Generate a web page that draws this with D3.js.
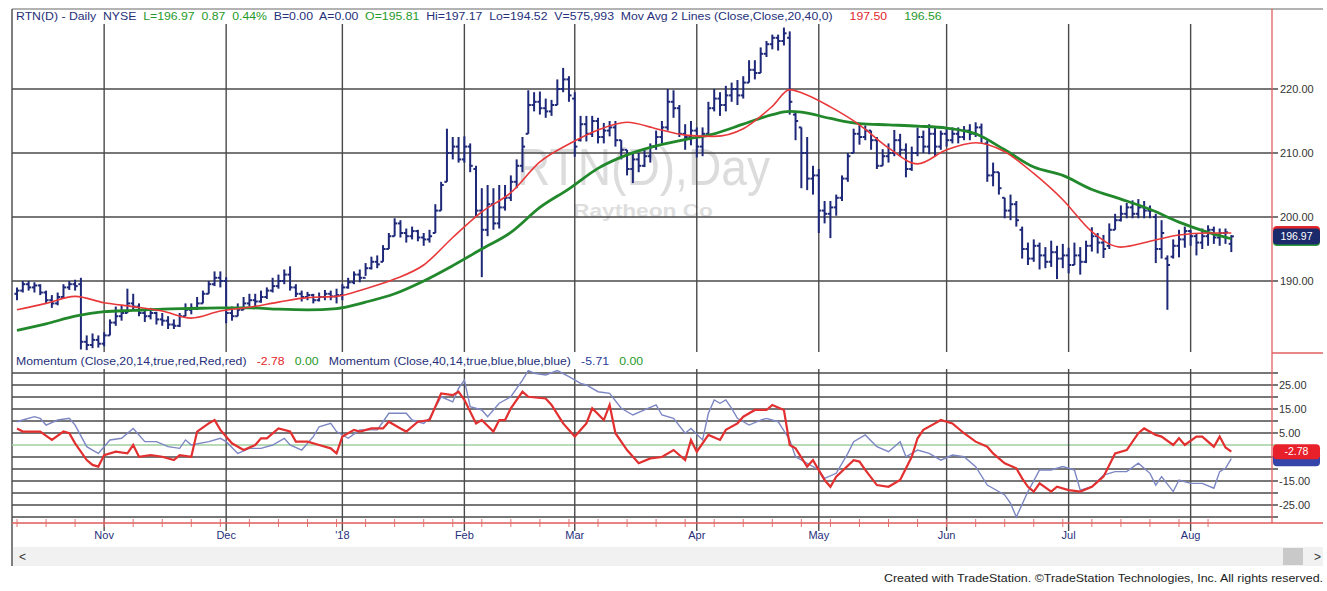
<!DOCTYPE html>
<html><head><meta charset="utf-8">
<script src="https://cdn.jsdelivr.net/npm/d3@7"></script>
<style>
html,body{margin:0;padding:0;background:#fff;}
svg{display:block;font-family:"Liberation Sans",Arial,sans-serif;}
text{white-space:pre;}
</style></head><body>
<svg id="c" width="1327" height="591"></svg>
<script>
// ---------- DATA ----------
const monthLabels = ["Nov","Dec","'18","Feb","Mar","Apr","May","Jun","Jul","Aug"];
const monthIdx    = [15,36,56,77,96,117,138,160,181,202];
const priceTicks  = [190,200,210,220];
const momGridLevels = [30,25,20,15,10,5,0,-5,-10,-15,-20,-25,-30];
const momLabels   = [25,15,5,-15,-25];

const opens = [188,188.5,189.5,189,189.3,188.2,187,186.5,187.5,189,
189.5,189.5,180.5,180,180.8,180.2,181.5,183.5,184.5,185,
186.5,186,185,184.5,185,184,183.8,183.2,183,184.5,
185.5,185.8,186.5,188,189.5,190.5,190,185,184.5,185.5,
186.5,187,186.8,187.5,188.5,189.2,190,191,189,188,
187.5,187.8,187,187.5,188,187.6,187.8,189,189.8,191,
190.5,192,193,193,195,197,199,197.5,197,197.8,
196.8,196.5,197.5,201,205.5,210,211,209,211,207.5,
201,198,202,199,201.5,203,205.5,208,213,217.5,
218,217,216.5,217.5,220,221.5,218.5,212,214.5,213,
215,212.5,213.5,214,212,210.5,207.5,209,208,209.5,
211,212.5,214,218,217,213,212.5,213.5,211,213,
217,218.5,217.5,219,220,219,221,223,222.5,225.5,
227,228,227.5,228,216,214,210,206,206.5,201,
200.5,201.5,203,206,210,213,212.5,213.5,212,208,
209.5,210,212,210.5,207.5,210,212.5,211,213,211,
213,212,213,212.5,213.5,213,214,211.5,206.5,207,
203,201,202,198,195,193.5,195.5,194,193,194.5,
193.5,194,192.5,194,193,195.5,197,196,195.5,198,
199.5,200.5,201.5,200.5,201.5,201,200,195,193.5,193.8,
195.5,196.5,197.8,197,196,197,198,196.8,197.5,195.81];

const highs = [189,190,190,189.8,189.5,188.5,187.8,188.2,189.5,190,
190.2,190.5,181.5,181.8,181.5,182,184,186,186.2,188.8,
188,186.5,185.6,185.8,185.2,185,184.5,184,185,186.5,
186.5,187.5,188.5,190,191.5,191.5,190.6,186,186.5,187.5,
188,188,188.5,189,190.5,191,191.8,192.3,189.5,188.5,
188.3,188,188.2,188.6,188.5,188.8,189.5,190.5,191.5,191.8,
192.8,193.8,194,195.6,197.5,199.8,199.5,198.2,198.5,198,
197.5,198,202,205.5,213.8,212.5,212.5,212.6,211.5,208,
204.5,205,204.5,205,205,206.5,209,212.5,219.8,219.5,
219.6,218.5,218.3,221.5,223.3,222,219.5,215.8,215.8,215.8,
215.5,214.7,215,215,212,210.5,210,210,210.5,211.5,
213.5,215,220,219.8,217.5,214.5,215,214,214,218,
220,219.5,220.5,221,221.4,222,224.5,224.5,226.5,227.5,
228.5,228.5,229.6,229,216.5,214,212.5,208,207.5,202.5,
202.5,203.5,206.5,210,213.8,214.6,214.3,213.5,212.5,210.6,
211.5,213.6,213,211.5,211,214,213.5,214.5,214,213.5,
214,214,214,214.2,214.5,214.8,214.6,212,208.5,207,
203,203.5,202.5,198.5,196,196.5,196,195.3,196.3,195.5,
195.8,195.2,196,195.3,196.3,198.4,197.5,197.2,199,200.5,
201.8,202.2,202.6,202.8,202.5,201.8,200.5,199.5,194,196.5,
198,198.5,198,197.5,198.2,198.7,198.5,198.2,198.2,197.17];

const lows = [187,188.2,188.5,188.2,187.8,186.5,185.8,186.2,187.2,188.6,
188.5,179.3,179.2,179.5,179.6,179.8,181.5,183,183.8,185,
185.5,184.5,183.6,184,183.2,183,182.5,182.5,182.8,184.5,
184.8,185.5,186.5,188,189.2,189,183.4,183.8,184.5,185.5,
186,186,186.6,187.2,188.2,188.8,189.5,188.5,187.5,186.8,
187,186.5,186.8,187,187,186.5,187,188.8,189.5,189.8,
190.8,191.8,192,193,195,197,196.8,196,196.5,196.2,
195.5,196,197.5,201,205.5,209,208.5,208.5,207,200,
190.6,197,198,198.2,201,202.5,204.5,207,213,216.5,
216,215.5,215.8,217.5,219.5,218,209.4,211.8,211.8,212.5,
211.5,211.5,212.6,211,209,206.5,205.3,207,207.8,208.5,
210.5,211.5,213.5,215.5,212.5,210.5,211.2,209.3,209.5,212.5,
216.5,215.8,216.5,218,217.5,218.5,221,221.5,222.5,225,
226.2,226,226.8,216,212,204.5,204.2,203.5,197.5,199,
196.7,200.2,202.5,205.5,210,211.3,212,210.5,207.5,208,
208.5,209.5,209.5,206.2,207.2,209.5,210,209.8,209.5,210.5,
211,211.5,211.5,212,212,212.5,211.6,205.5,204.8,203.5,
199.8,199.5,198.5,193.5,192.5,193,191.8,192,192.2,190.3,
192,191.2,192.5,191,192.8,194.6,194.3,193.6,195,198,
199.3,199.8,199.8,199.8,199.8,199.8,192.8,193.5,185.5,193.5,
193.7,195.2,195.5,194,195,195.5,195.8,195.5,195.8,194.52];

const closes = [188.5,189.5,189,189.3,188.2,187,186.5,187.5,189,189.5,
189.2,180.5,180,180.8,180.2,181.5,183.5,184.5,185,186.5,
186,185,184.5,185,184,183.8,183.2,183,184.5,185.5,
185.8,186.5,188,189.5,190.5,190,185,184.5,185.5,186.5,
187,186.8,187.5,188.5,189.2,190,191,189,188,187.5,
187.8,187,187.5,188,187.6,187.8,189,189.8,191,190.5,
192,193,192.6,195,197,199,197.5,197,197.8,196.8,
196.5,197,201,205,210,211,209,211,208,201,
198,202,199,201.5,203,205.5,208,211,217.5,218,
217,216.5,217.5,220,221.5,219,211,214.5,213,215,
212.5,213.5,214,212,210.5,207.5,209,208,209.5,211,
212.5,214,218,217,213,212.5,213.5,211,213,217,
218.5,217.5,219,220,219,221,223,222.5,225.5,227,
228,227.5,228.7,218,215,210,206,206.5,201,200.5,
201.5,203,206,209.5,213,212.5,213.5,212,208,209.5,
210,212,210.5,207.5,210,212.5,211,213,211,213,
212,213,212.5,213.5,213,214,212.5,206.5,207,204.5,
201,202,199.5,195,193.5,195.5,194,193,194.5,193.5,
194,192.5,194,193,195.5,197,196,195,198,199.5,
200.5,201.5,200.5,201.5,201,201,195,197.5,192.5,195.5,
196.5,197.8,197,196,197,198,196.8,197.5,197.6,196.97];

const maIdx = [0,5,10,15,20,25,30,35,40,45,50,55,60,65,70,75,80,85,90,95,100,105,110,115,120,125,130,133,135,140,145,150,155,160,165,170,175,180,185,190,195,200,205,209];
const ma20 = [185.5,186.5,187.6,186.6,186,185.3,184.2,185.3,185.9,186.7,187.4,187.6,188.8,190.3,192.5,196.8,200.8,203.8,208.6,211.4,213.6,214.8,213.8,212.8,212.6,213.8,217.3,219.9,219.4,217.2,214.4,210.8,208.3,210.5,211.6,210.2,206.8,202.7,197.7,195.3,196.2,197.2,197.5,197.5];
const ma40 = [182.3,183.3,184.5,185.2,185.4,185.6,185.7,185.8,185.8,185.6,185.5,185.7,186.7,188,190,192.4,195,197.6,201.5,204.4,207.6,209.7,211.1,212.1,213,214.5,216,216.5,216.4,215.4,214.6,214.4,214.2,213.9,213,210.5,207.8,206.5,204.3,202.8,201.2,199.2,197.6,196.6];

const momRedIdx = [0,1,4,6,8,9,10,12,13,14,15,17,19,20,21,23,25,27,28,30,31,33,34,35,37,39,41,42,43,45,47,48,50,52,54,55,56,58,59,61,63,64,66,67,69,71,73,75,76,77,79,80,82,83,84,85,87,88,91,92,94,96,98,99,101,102,103,105,107,109,111,113,115,116,117,119,121,122,124,125,127,129,130,132,133,134,136,137,139,140,141,144,145,146,148,150,152,154,155,156,158,159,161,163,165,167,168,170,172,173,174,175,176,178,179,181,183,185,187,189,191,193,194,196,197,199,200,201,203,204,206,207,208,209];
const momRed = [6.9,5.6,5.6,2.1,5.6,4.9,0.7,-6.3,-8.3,-9,-4.2,-2.8,-3.5,0,-4.9,-4.2,-4.9,-6.3,-4.2,-4.9,5.6,9,10.4,6.3,0.7,-2.1,0,2.8,2.8,6.9,5.6,1.4,1.4,0,-1.4,-3.5,3.5,6.3,5.6,6.9,6.9,9.7,6.9,5.6,9.7,10.4,21.5,20.8,22.2,18.8,9,10.4,5.6,10.4,10.4,15.3,22.2,20.1,19.4,16.7,9,3.5,9,15.3,10.4,16.7,4.9,-2.1,-7.6,-5.6,-5,-2.1,-6.3,2.1,-2.8,4.2,2.1,6.3,9,11.8,14.6,14.6,16.7,14.6,0,-1.4,-9,-6.3,-14.6,-17.4,-13.2,-6.3,-6.9,-10.4,-16.7,-17.4,-14.6,-4.9,2.8,6.3,9,10.4,9,4.9,1.4,-0.7,-3.5,-7.6,-9.7,-13.9,-17.4,-19.4,-16,-19.4,-17.4,-18.8,-19.4,-17.4,-13.2,-3.5,-2.1,4.9,6.9,4.2,3.5,0,2.8,0,3.5,3.5,-0.7,3.5,-1,-2.78];

const momBlueIdx = [0,1,3,4,5,7,9,10,12,13,14,16,18,20,22,24,26,28,29,30,33,35,36,38,40,42,44,46,47,49,51,52,54,55,57,59,62,63,64,67,68,70,71,73,75,76,77,78,80,81,83,85,87,88,89,91,93,95,97,98,100,102,104,106,108,110,111,113,115,116,118,119,120,121,122,123,124,126,128,129,131,133,134,136,138,139,141,143,144,146,148,150,152,153,155,157,159,161,163,165,167,170,171,172,174,176,178,180,182,183,185,187,189,191,193,195,196,197,199,200,202,204,206,207,208,209];
const momBlue = [9.7,10.4,11.8,11.1,8.3,10.4,11.1,8.3,-0.7,-2.1,-3.5,2.1,2.8,6.9,1.4,1.4,-0.7,-1.4,2.1,0,1.4,2.8,1.4,-3.5,-1.4,-1.4,0,2.8,0,-2.1,3.5,7.6,9,5.6,2.8,6.3,6.3,9.7,13.2,13.2,10.4,9,11.1,20.1,18,23.6,27,16,14.6,11.8,17.4,20.1,27,31,29.9,29.2,31,28.5,25.7,25,22.2,21.5,15.3,12.5,14.6,16.7,12.5,11.1,4.9,6.9,2.1,13.2,18.8,17.4,18.8,15.3,11.1,8.3,10.4,11.1,9.7,2.1,-4.9,-7.6,-10.4,-13.9,-11.8,-3.5,1.4,4.2,-0.7,-2.8,1.4,-4.9,-2.1,-3.5,-6.3,-4.2,-4.9,-9,-16.7,-20.8,-24.3,-30,-19.4,-10.4,-10.4,-9,-10.4,-18.8,-17.4,-12.5,-11.1,-11.1,-7.6,-11.8,-16.7,-13.2,-19.4,-14.6,-16,-16,-18,-11.1,-9.7,-5.71];

const lastClose = 196.97, lastMa20 = 197.50, lastMa40 = 196.56;
const lastMomRed = -2.78, lastMomBlue = -5.71;

// ---------- DRAWING ----------
const svg = d3.select("#c");
const NAVY = "#26307a", GREEN = "#1f9a2a", RED = "#e2262b", BAR = "#1e2878";
const L = 12, R = 1272;
const x  = d3.scaleLinear().domain([0, 209]).range([17, 1231.3]);
const yP = d3.scaleLinear().domain([190, 220]).range([281, 89]);
const yM = d3.scaleLinear().domain([-25, 25]).range([505, 385]);

// frame
svg.append("line").attr("x1", L).attr("x2", 1323).attr("y1", 9).attr("y2", 9).attr("stroke", "#9a9a9a").attr("stroke-width", 1.5);
svg.append("line").attr("x1", L).attr("x2", L).attr("y1", 9).attr("y2", 566).attr("stroke", "#555").attr("stroke-width", 1.5);

// watermark
svg.append("text").attr("x", 517).attr("y", 185).attr("font-size", 52).attr("fill", "#dcdcdc")
  .attr("textLength", 253).attr("lengthAdjust", "spacingAndGlyphs").text("RTN(D),Day");
svg.append("text").attr("x", 573).attr("y", 217).attr("font-size", 19).attr("font-weight", "bold").attr("fill", "#dedede")
  .attr("textLength", 140).attr("lengthAdjust", "spacingAndGlyphs").text("Raytheon Co");

// price gridlines + labels
const gP = svg.append("g");
priceTicks.forEach(t => {
  gP.append("line").attr("x1", L).attr("x2", 1278).attr("y1", yP(t)).attr("y2", yP(t)).attr("stroke", "#4a4a4a").attr("stroke-width", 1.4);
  gP.append("text").attr("x", 1280).attr("y", yP(t)).attr("dy", "0.35em").attr("font-size", 11).attr("fill", "#333").text(t.toFixed(2));
});

// momentum gridlines
momGridLevels.forEach(m => {
  svg.append("line").attr("x1", L).attr("x2", 1278).attr("y1", yM(m)).attr("y2", yM(m))
    .attr("stroke", m === 0 ? "#9fcf9f" : "#4a4a4a").attr("stroke-width", 1.4);
});
momLabels.forEach(m => {
  svg.append("text").attr("x", 1279).attr("y", yM(m)).attr("dy", "0.35em").attr("font-size", 11).attr("fill", "#333").text(m.toFixed(2));
});

// vertical month lines
monthIdx.forEach(i => {
  svg.append("line").attr("x1", x(i)).attr("x2", x(i)).attr("y1", 24).attr("y2", 352).attr("stroke", "#4a4a4a").attr("stroke-width", 1.4);
  svg.append("line").attr("x1", x(i)).attr("x2", x(i)).attr("y1", 369).attr("y2", 531).attr("stroke", "#4a4a4a").attr("stroke-width", 1.4);
});

// OHLC bars
const gB = svg.append("g").attr("stroke", BAR).attr("stroke-width", 2);
closes.forEach((c, i) => {
  const xi = x(i);
  gB.append("line").attr("x1", xi).attr("x2", xi).attr("y1", yP(highs[i])).attr("y2", yP(lows[i]));
  gB.append("line").attr("x1", xi - 2.6).attr("x2", xi).attr("y1", yP(opens[i])).attr("y2", yP(opens[i]));
  gB.append("line").attr("x1", xi).attr("x2", xi + 2.6).attr("y1", yP(c)).attr("y2", yP(c));
});

// moving averages
const maLine = arr => d3.line().x((d, k) => x(maIdx[k])).y(d => yP(d)).curve(d3.curveMonotoneX)(arr);
svg.append("path").attr("d", maLine(ma40)).attr("fill", "none").attr("stroke", "#22882c").attr("stroke-width", 2.8);
svg.append("path").attr("d", maLine(ma20)).attr("fill", "none").attr("stroke", "#e8383a").attr("stroke-width", 1.6);

// momentum lines
const momLine = idx => d3.line().x((d, k) => x(idx[k])).y(d => yM(d));
svg.append("path").attr("d", momLine(momBlueIdx)(momBlue)).attr("fill", "none").attr("stroke", "#7c86c2").attr("stroke-width", 1.4);
svg.append("path").attr("d", momLine(momRedIdx)(momRed)).attr("fill", "none").attr("stroke", "#e23030").attr("stroke-width", 2.2);

// right axis line + separators
svg.append("line").attr("x1", R).attr("x2", R).attr("y1", 9).attr("y2", 523).attr("stroke", "#e06060").attr("stroke-width", 1.3);
svg.append("line").attr("x1", R).attr("x2", 1323).attr("y1", 353).attr("y2", 353).attr("stroke", "#e06060").attr("stroke-width", 1.3);

// value boxes
function valBox(y, fill, label, h) {
  const g = svg.append("g");
  g.append("rect").attr("x", 1273).attr("y", y - h / 2).attr("width", 47).attr("height", h).attr("rx", 4).attr("fill", fill);
  if (label) g.append("text").attr("x", 1296.5).attr("y", y).attr("dy", "0.36em").attr("text-anchor", "middle")
    .attr("font-size", 10.5).attr("fill", "#fff").text(label);
}
valBox(yP(lastMa40), "#2a9a3a", null, 14);
valBox(yP(lastMa20), "#e2262b", null, 14);
valBox(yP(lastClose), "#1b2a6b", lastClose.toFixed(2), 16);
valBox(yM(lastMomBlue), "#3444a8", null, 15);
valBox(yM(lastMomRed), "#e8202a", lastMomRed.toFixed(2), 15);

// x axis
svg.append("line").attr("x1", L).attr("x2", 1323).attr("y1", 523).attr("y2", 523).attr("stroke", "#e05a5a").attr("stroke-width", 1.5);
d3.range(0, 210, 5).forEach(i => {
  svg.append("line").attr("x1", x(i)).attr("x2", x(i)).attr("y1", 519).attr("y2", 527).attr("stroke", "#e07070").attr("stroke-width", 1);
});
monthLabels.forEach((m, k) => {
  svg.append("text").attr("x", x(monthIdx[k])).attr("y", 539).attr("text-anchor", "middle").attr("font-size", 11).attr("fill", NAVY).text(m);
});

// scrollbar
svg.append("rect").attr("x", L + 1).attr("y", 547).attr("width", 1310).attr("height", 19).attr("fill", "#f1f1f1");
svg.append("rect").attr("x", 1283).attr("y", 548).attr("width", 20).attr("height", 17).attr("fill", "#c9c9c9");
svg.append("text").attr("x", 19).attr("y", 561).attr("font-size", 12).attr("fill", "#333").text("<");
svg.append("text").attr("x", 1314).attr("y", 561).attr("font-size", 12).attr("fill", "#333").text(">");

// credit
svg.append("text").attr("x", 1323).attr("y", 582).attr("text-anchor", "end").attr("font-size", 11).attr("fill", "#222")
  .attr("textLength", 439).attr("lengthAdjust", "spacingAndGlyphs")
  .text("Created with TradeStation. \u00A9TradeStation Technologies, Inc. All rights reserved.");

// header texts
function header(y, x0, width, parts) {
  const t = svg.append("text").attr("x", 0).attr("y", y).attr("font-size", 11);
  parts.forEach(p => t.append("tspan").attr("fill", p[1]).text(p[0]));
  const w = t.node().getBBox().width;
  t.attr("transform", `translate(${x0},0) scale(${width / w},1)`);
}
header(20, 16, 927, [
  ["RTN(D) - Daily  NYSE  ", NAVY],
  ["L=196.97  0.87  0.44%  ", GREEN],
  ["B=0.00  A=0.00  ", NAVY],
  ["O=195.81  ", GREEN],
  ["Hi=197.17  Lo=194.52  V=575,993  Mov Avg 2 Lines (Close,Close,20,40,0)     ", NAVY],
  ["197.50", RED], ["     ", NAVY], ["196.56", GREEN]
]);
header(365, 16, 628, [
  ["Momentum (Close,20,14,true,red,Red,red)   ", NAVY],
  ["-2.78", RED], ["   ", NAVY], ["0.00", GREEN],
  ["   Momentum (Close,40,14,true,blue,blue,blue)   ", NAVY],
  ["-5.71", "#2a3a9a"], ["   ", NAVY], ["0.00", GREEN]
]);
</script>
</body></html>
